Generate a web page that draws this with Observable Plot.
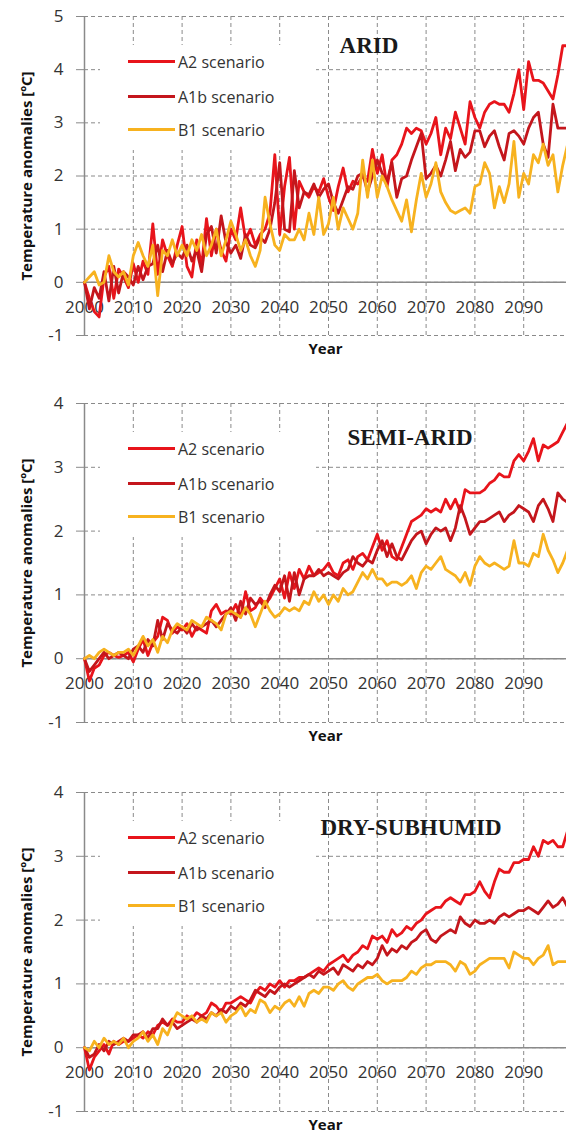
<!DOCTYPE html>
<html>
<head>
<meta charset="utf-8">
<script src="https://cdn.jsdelivr.net/npm/d3@7"></script>
<script src="https://cdn.jsdelivr.net/npm/@observablehq/plot@0.6"></script>
<style>
  html, body { margin: 0; padding: 0; background: #fff; overflow: hidden; }
  #root { position: relative; width: 566px; height: 1136px; overflow: hidden; background: #fff; }
  .panel { position: absolute; left: 0; width: 566px; }
  .legend { position: absolute; left: 100px; width: 216px; height: 105px; background: #fff; }
  .legrow { position: absolute; left: 0; height: 20px; width: 216px; }
  .legline { position: absolute; left: 28px; top: 8px; width: 47px; height: 3px; }
  .legtext { position: absolute; left: 78px; top: 0; font: 16px "Open Sans", sans-serif; color: #333; line-height: 20px; white-space: nowrap; }
  .ptitle { position: absolute; transform: translate(-50%, -50%); font: bold 23px "Liberation Serif", serif; color: #1a1a1a; white-space: nowrap; }
</style>
</head>
<body>
<div id="root"></div>
<script>
// ---------- data ----------
const years = d3.range(2000, 2100);
const scenarios = ["A2 scenario", "A1b scenario", "B1 scenario"];
const colors = ["#e8141b", "#c4161c", "#f7b21f"];
const panelTitles = ["ARID", "SEMI-ARID", "DRY-SUBHUMID"];
const xTickLabels = [2000, 2010, 2020, 2030, 2040, 2050, 2060, 2070, 2080, 2090];
const xGridLines = [2000, 2010, 2020, 2030, 2040, 2050, 2060, 2070, 2080, 2090, 2100];
const yTicksArid = [-1, 0, 1, 2, 3, 4, 5];
const yTicksOther = [-1, 0, 1, 2, 3, 4];
const yLabel = "Temperature anomalies [ºC]";
const xLabel = "Year";

const aridA2 = [
  0.0, -0.3, -0.55, -0.65, 0.1, 0.3, -0.3, 0.25, 0.1, -0.1,
  0.35, 0.0, 0.4, 0.15, 1.1, 0.15, 0.8, 0.5, 0.3, 0.7,
  1.05, 0.3, 0.1, 0.8, 0.3, 1.2, 0.5, 1.0, 0.6, 0.4,
  1.0, 0.8, 1.4, 0.8, 1.0, 0.7, 0.9, 1.0, 1.3, 2.4,
  0.9, 1.8, 2.35, 1.0, 1.9, 1.7, 1.6, 1.8, 1.7, 1.95,
  1.6, 1.35, 1.8, 2.15, 1.7, 1.9, 1.85, 2.0, 1.9, 2.5,
  2.05, 2.4, 1.8, 2.3, 2.4, 2.6, 2.9, 2.8, 2.9, 2.85,
  2.6, 2.8, 3.1, 2.4, 2.9, 2.7, 3.2, 2.9, 2.6, 3.4,
  3.1, 2.9, 3.2, 3.35, 3.4, 3.35, 3.35, 3.2, 3.55, 4.0,
  3.25, 4.15, 3.8, 3.8, 3.75, 3.6, 3.45, 3.9, 4.45, 4.45
];
const aridA1b = [
  0.0, -0.5, -0.1, -0.3, 0.2, -0.35, 0.3, -0.2, 0.2, 0.1,
  -0.05, 0.3, 0.05, 0.3, 0.35, 0.7, 0.2, 0.6, 0.35, 0.55,
  0.45, 0.7, 0.4, 0.6, 0.2, 0.9, 1.05, 0.55, 1.25, 0.75,
  0.55, 0.7, 0.45, 0.9, 0.7, 0.65, 0.85, 0.75, 1.0, 1.5,
  2.25, 1.0, 0.95, 2.1, 1.4, 1.7, 1.65, 1.85, 1.6, 1.75,
  1.85, 1.5, 1.3, 1.55, 1.8, 1.75, 2.0, 2.05, 1.7, 2.0,
  2.3, 2.05, 1.9, 2.25, 1.6, 1.95, 2.0, 2.3, 2.55, 2.8,
  1.95, 2.05, 2.2, 2.0, 2.3, 2.65, 2.1, 2.5, 2.35, 2.45,
  2.85, 2.85, 2.55, 2.75, 2.85, 2.55, 2.3, 2.8, 2.85, 2.75,
  2.6, 2.9, 3.1, 3.2, 2.6, 2.35, 3.35, 2.9, 2.9, 2.9
];
const aridB1 = [
  0.0, 0.1, 0.2, -0.05, 0.0, 0.5, 0.2, 0.1, 0.2, -0.05,
  0.5, 0.75, 0.5, 0.3, 0.7, -0.25, 0.6, 0.5, 0.8, 0.5,
  0.7, 0.5, 0.8, 0.6, 0.9, 0.5, 0.7, 1.0, 0.5, 0.8,
  1.15, 0.9, 0.6, 0.8, 0.5, 0.3, 0.6, 1.6, 1.1, 0.7,
  0.6, 0.9, 0.8, 0.8, 1.0, 0.8, 1.3, 0.9, 1.6, 0.9,
  1.1, 1.6, 1.0, 1.4, 1.2, 1.0, 1.3, 2.3, 1.6, 2.3,
  1.6, 2.0, 1.8, 1.55, 1.35, 1.15, 1.55, 0.95, 1.55, 2.05,
  1.6, 1.85, 2.25, 1.7, 1.5, 1.35, 1.3, 1.35, 1.4, 1.3,
  1.8, 1.85, 2.25, 2.05, 1.4, 1.8, 1.5, 1.85, 2.65, 1.6,
  2.05, 1.85, 2.4, 2.25, 2.6, 2.2, 2.4, 1.7, 2.2, 2.6
];

const semiA2 = [
  0.0, -0.35, -0.15, -0.1, 0.05, 0.1, 0.05, 0.02, 0.05, 0.1,
  -0.05, 0.15, 0.3, 0.05, 0.25, 0.35, 0.65, 0.6, 0.4, 0.5,
  0.45, 0.55, 0.35, 0.5, 0.45, 0.4, 0.75, 0.85, 0.7, 0.75,
  0.7, 0.85, 0.65, 1.05, 0.75, 0.8, 0.95, 0.85, 0.95, 1.1,
  1.25, 0.95, 1.35, 1.1, 1.4, 1.25, 1.45, 1.3, 1.35, 1.4,
  1.5, 1.35, 1.3, 1.5, 1.55, 1.4, 1.6, 1.65, 1.55, 1.75,
  1.95, 1.7, 1.85, 1.6, 1.55, 1.75, 1.95, 2.15, 2.2, 2.25,
  2.35, 2.3, 2.35, 2.3, 2.5, 2.35, 2.5, 2.3, 2.65, 2.6,
  2.6, 2.6, 2.65, 2.75, 2.8, 2.9, 2.85, 2.85, 3.1, 3.2,
  3.1, 3.25, 3.45, 3.1, 3.35, 3.3, 3.35, 3.4, 3.55, 3.7
];
const semiA1b = [
  0.0, -0.2, -0.1, 0.0, 0.1, 0.0, 0.05, 0.1, 0.05, 0.0,
  0.15, 0.2, 0.1, 0.3, 0.2, 0.6, 0.3, 0.55, 0.45, 0.4,
  0.5, 0.4, 0.55, 0.45, 0.5, 0.55, 0.6, 0.5, 0.6, 0.7,
  0.8, 0.6, 0.9, 0.7, 0.95, 0.85, 0.9, 0.8, 1.0, 1.15,
  1.05, 1.3, 0.9, 1.35, 1.0, 1.25, 1.3, 1.3, 1.4, 1.3,
  1.35, 1.3, 1.25, 1.35, 1.4, 1.6, 1.5, 1.45, 1.55, 1.5,
  1.7, 1.85, 1.6, 1.8, 1.6, 1.55, 1.7, 1.85, 1.95, 2.0,
  1.8, 1.95, 2.05, 2.0, 2.05, 1.85, 2.05, 2.4, 2.2, 1.95,
  2.05, 2.15, 2.15, 2.2, 2.25, 2.3, 2.15, 2.25, 2.3, 2.4,
  2.35, 2.3, 2.15, 2.4, 2.5, 2.35, 2.15, 2.6, 2.5, 2.45
];
const semiB1 = [
  0.0, 0.05, 0.0, 0.1, 0.15, 0.1, 0.05, 0.1, 0.1, 0.15,
  0.05, 0.2, 0.35, 0.2, 0.3, 0.1, 0.35, 0.25, 0.45, 0.55,
  0.5, 0.45, 0.6, 0.55, 0.5, 0.65, 0.6, 0.55, 0.45, 0.7,
  0.75, 0.7, 0.65, 0.8, 0.7, 0.5, 0.7, 0.9, 0.75, 0.65,
  0.7, 0.8, 0.75, 0.8, 0.75, 0.9, 0.85, 1.05, 0.9, 1.0,
  0.85, 1.0, 0.9, 1.1, 1.0, 1.05, 1.2, 1.35, 1.25, 1.4,
  1.25, 1.25, 1.15, 1.2, 1.2, 1.15, 1.2, 1.3, 1.1, 1.35,
  1.45, 1.4, 1.5, 1.6, 1.4, 1.35, 1.3, 1.2, 1.35, 1.15,
  1.45, 1.6, 1.5, 1.45, 1.5, 1.45, 1.4, 1.45, 1.85, 1.5,
  1.5, 1.45, 1.65, 1.6, 1.95, 1.7, 1.55, 1.35, 1.5, 1.7
];

const dryA2 = [
  0.0, -0.35, -0.15, -0.05, 0.05, -0.1, 0.1, 0.05, 0.1, 0.1,
  0.15, 0.2, 0.15, 0.25, 0.2, 0.35, 0.4, 0.35, 0.45, 0.4,
  0.4, 0.5, 0.45, 0.55, 0.5, 0.55, 0.7, 0.65, 0.55, 0.7,
  0.7, 0.75, 0.8, 0.75, 0.7, 0.85, 0.95, 0.9, 1.0, 0.95,
  1.05, 0.95, 1.05, 1.05, 1.1, 1.1, 1.15, 1.2, 1.25, 1.2,
  1.3, 1.35, 1.4, 1.45, 1.35, 1.45, 1.5, 1.6, 1.55, 1.75,
  1.7, 1.75, 1.65, 1.85, 1.75, 1.8, 1.9, 1.85, 1.95, 2.0,
  2.1, 2.15, 2.2, 2.2, 2.3, 2.35, 2.3, 2.25, 2.4, 2.4,
  2.45, 2.6, 2.45, 2.35, 2.6, 2.8, 2.75, 2.75, 2.9, 2.9,
  2.95, 2.95, 3.15, 3.0, 3.25, 3.2, 3.25, 3.15, 3.15, 3.4
];
const dryA1b = [
  0.0, -0.15, -0.1, 0.05, -0.05, 0.1, 0.05, 0.1, 0.15, 0.1,
  0.2, 0.2, 0.25, 0.15, 0.3, 0.3, 0.45, 0.35, 0.4, 0.3,
  0.35, 0.4, 0.45, 0.4, 0.5, 0.45, 0.55, 0.5, 0.6, 0.55,
  0.65, 0.6, 0.7, 0.65, 0.75, 0.9, 0.85, 0.8, 0.9, 0.85,
  0.95, 1.0, 0.95, 1.0, 1.05, 1.1, 1.15, 1.1, 1.2, 1.15,
  1.2, 1.25, 1.15, 1.3, 1.25, 1.2, 1.3, 1.25, 1.35, 1.3,
  1.4, 1.6, 1.45, 1.55, 1.5, 1.6, 1.55, 1.65, 1.7, 1.8,
  1.85, 1.7, 1.65, 1.75, 1.8, 1.85, 1.8, 2.05, 1.95, 1.9,
  2.0, 1.95, 1.95, 2.0, 1.95, 2.05, 2.1, 2.05, 2.1, 2.15,
  2.15, 2.2, 2.15, 2.1, 2.2, 2.3, 2.2, 2.25, 2.35, 2.2
];
const dryB1 = [
  0.0, -0.05, 0.1, 0.0, 0.15, 0.05, 0.1, 0.05, 0.15, 0.0,
  0.1, 0.15, 0.25, 0.1, 0.2, 0.05, 0.3, 0.2, 0.4, 0.55,
  0.5, 0.45, 0.5, 0.4, 0.45, 0.4, 0.55, 0.5, 0.55, 0.4,
  0.5, 0.55, 0.65, 0.5, 0.6, 0.55, 0.75, 0.7, 0.55, 0.65,
  0.6, 0.7, 0.75, 0.65, 0.8, 0.65, 0.85, 0.9, 0.85, 0.95,
  0.95, 0.9, 1.0, 1.05, 0.95, 0.9, 1.0, 1.05, 1.1, 1.1,
  1.15, 1.05, 1.0, 1.05, 1.05, 1.05, 1.1, 1.2, 1.15, 1.25,
  1.3, 1.3, 1.35, 1.35, 1.35, 1.3, 1.2, 1.35, 1.3, 1.15,
  1.2, 1.3, 1.35, 1.4, 1.4, 1.4, 1.4, 1.25, 1.5, 1.45,
  1.4, 1.4, 1.3, 1.4, 1.45, 1.6, 1.3, 1.35, 1.35, 1.35
];

// ---------- layout ----------
const panels = [
  {title: panelTitles[0], series: [aridA2, aridA1b, aridB1], yTicks: yTicksArid, top: 0, height: 376, titleX: 369, titleY: 30},
  {title: panelTitles[1], series: [semiA2, semiA1b, semiB1], yTicks: yTicksOther, top: 387, height: 376, titleX: 410, titleY: 35},
  {title: panelTitles[2], series: [dryA2, dryA1b, dryB1], yTicks: yTicksOther, top: 776, height: 360, titleX: 411, titleY: 36}
];
const MT = 16, PH = 319, ML = 84;
const gridColor = "#8a8a8a";
const root = document.getElementById("root");

panels.forEach(p => {
  const rows = [];
  years.forEach((yr, i) => {
    p.series.forEach((vals, s) => rows.push({year: yr, value: vals[i], scenario: scenarios[s]}));
  });
  const chart = Plot.plot({
    width: 566,
    height: p.height,
    marginLeft: ML,
    marginRight: -6,
    marginTop: MT,
    marginBottom: p.height - MT - PH,
    style: {fontFamily: "'Open Sans', sans-serif", fontSize: "17px", color: "#333", background: "#fff"},
    x: {domain: [2000, 2100], axis: null},
    y: {domain: [d3.min(p.yTicks), d3.max(p.yTicks)]},
    color: {domain: scenarios, range: colors},
    marks: [
      Plot.gridX(xGridLines, {stroke: gridColor, strokeOpacity: 1, strokeWidth: 1, strokeDasharray: "4,3"}),
      Plot.gridY(p.yTicks, {stroke: gridColor, strokeOpacity: 1, strokeWidth: 1, strokeDasharray: "4,3"}),
      Plot.ruleX([2000], {stroke: gridColor, strokeWidth: 1.5}),
      Plot.ruleY([0], {stroke: gridColor, strokeWidth: 1.5}),
      Plot.axisY(p.yTicks, {tickSize: 8, tickPadding: 13, stroke: gridColor, fill: "#333", fontSize: 17, tickFormat: d => `${d}`, label: null}),
      Plot.text(xTickLabels, {x: d => d, y: d => 0, dy: 25, text: d => `${d}`, fill: "#333", fontSize: 17}),
      Plot.line(rows, {x: "year", y: "value", z: "scenario", stroke: "scenario", strokeWidth: 2.8, strokeLinejoin: "round"}),
      Plot.text([yLabel], {frameAnchor: "left", dx: -57, rotate: -90, textAnchor: "middle", text: d => d, fontWeight: "bold", fontSize: 15, fill: "#111"}),
      Plot.text([xLabel], {frameAnchor: "bottom", dy: 18, dx: -3, text: d => d, fontWeight: "bold", fontSize: 15, fill: "#111"})
    ]
  });
  const div = document.createElement("div");
  div.className = "panel";
  div.style.top = p.top + "px";
  div.style.height = p.height + "px";
  div.appendChild(chart);

  // legend
  const leg = document.createElement("div");
  leg.className = "legend";
  leg.style.top = (MT + 29) + "px";
  const rowCenters = [17, 52, 85];
  scenarios.forEach((s, i) => {
    const r = document.createElement("div");
    r.className = "legrow";
    r.style.top = (rowCenters[i] - 10) + "px";
    const ln = document.createElement("div");
    ln.className = "legline";
    ln.style.background = colors[i];
    const tx = document.createElement("div");
    tx.className = "legtext";
    tx.textContent = s;
    r.appendChild(ln); r.appendChild(tx);
    leg.appendChild(r);
  });
  div.appendChild(leg);

  // panel title
  const t = document.createElement("div");
  t.className = "ptitle";
  t.textContent = p.title;
  t.style.left = p.titleX + "px";
  t.style.top = (MT + p.titleY) + "px";
  div.appendChild(t);

  root.appendChild(div);
});
</script>
</body>
</html>
